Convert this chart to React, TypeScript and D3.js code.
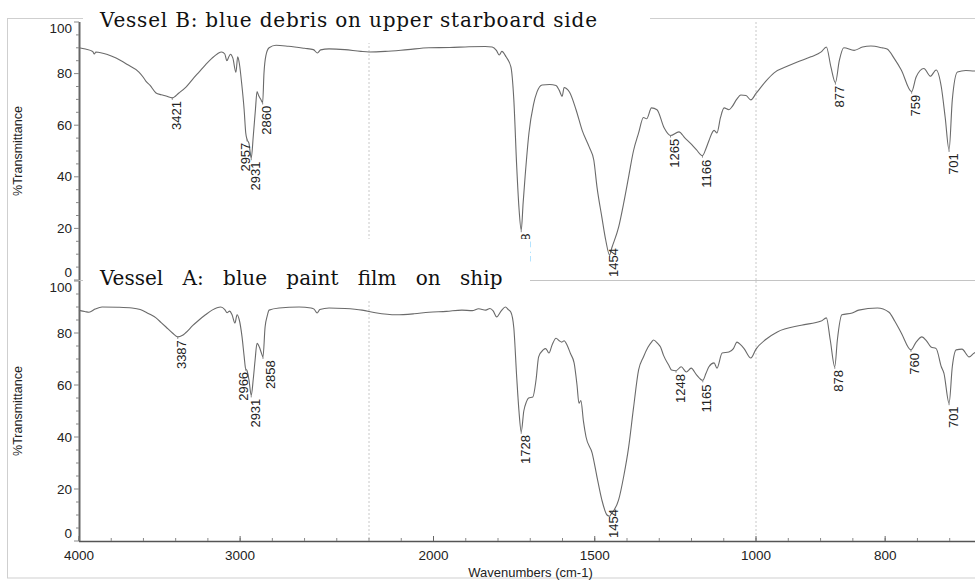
import * as d3 from 'd3';

// FTIR spectra: [wavenumber cm-1, %T]
const vesselB: [number, number][] = [
	[4000, 90.0], [3960, 89.5], [3915, 88.6], [3905, 87.6], [3895, 88.4], [3820, 87.3],
	[3770, 86.0], [3700, 83.5], [3628, 80.6], [3600, 78.5], [3584, 77.0], [3560, 75.5],
	[3522, 72.5], [3490, 71.8], [3460, 71.3], [3421, 70.6], [3380, 72.5], [3336, 74.8],
	[3295, 77.8], [3255, 80.6], [3215, 83.4], [3174, 86.0], [3140, 87.7], [3115, 88.4],
	[3095, 87.6], [3082, 85.0], [3070, 86.5], [3060, 87.5], [3045, 86.0], [3026, 80.5],
	[3015, 86.5], [3005, 84.0], [2990, 76.0], [2975, 66.0], [2965, 57.0], [2957, 54.5],
	[2945, 53.0], [2931, 47.2], [2918, 56.0], [2905, 66.0], [2895, 73.0], [2885, 71.5],
	[2870, 69.8], [2860, 68.8], [2852, 80.0], [2840, 87.0], [2820, 90.0], [2777, 91.0],
	[2700, 90.6], [2600, 89.8], [2545, 89.3], [2520, 88.0], [2500, 89.2], [2448, 89.6],
	[2350, 89.3], [2250, 88.6], [2200, 88.4], [2150, 88.6], [2080, 89.3], [2014, 90.0],
	[1950, 90.1], [1890, 90.4], [1840, 90.5], [1818, 90.3], [1805, 89.0], [1796, 87.2],
	[1788, 88.6], [1775, 86.5], [1760, 82.6], [1751, 70.0], [1742, 44.0], [1735, 28.0],
	[1728, 19.3], [1722, 30.0], [1716, 40.0], [1704, 57.0], [1690, 68.0], [1679, 72.9],
	[1663, 75.6], [1640, 75.8], [1620, 75.4], [1610, 73.5], [1601, 71.2], [1595, 74.6],
	[1588, 74.2], [1578, 72.8], [1558, 66.0], [1539, 58.0], [1517, 51.5], [1503, 46.5],
	[1493, 36.0], [1478, 24.4], [1466, 15.5], [1454, 9.7], [1447, 12.5], [1426, 20.5],
	[1410, 30.0], [1395, 40.0], [1380, 50.0], [1364, 57.0], [1349, 63.0], [1339, 62.5],
	[1324, 66.7], [1307, 66.0], [1285, 59.0], [1265, 56.0], [1239, 57.4], [1220, 55.0],
	[1203, 53.0], [1185, 50.5], [1166, 48.2], [1155, 51.0], [1146, 54.0], [1130, 58.0],
	[1121, 57.0], [1110, 63.0], [1099, 66.7], [1084, 66.0], [1074, 67.2], [1060, 70.0],
	[1047, 71.7], [1031, 71.5], [1016, 69.8], [1000, 72.3], [985, 77.0], [972, 80.3],
	[950, 83.0], [936, 84.5], [915, 86.5], [899, 88.4], [891, 90.3], [884, 82.6],
	[877, 76.5], [871, 85.0], [864, 90.0], [848, 89.0], [835, 90.3], [822, 90.7],
	[805, 90.0], [797, 89.5], [785, 85.5], [775, 81.4], [759, 73.0], [752, 78.7],
	[740, 82.0], [730, 79.0], [721, 81.4], [713, 74.8], [707, 63.0], [701, 50.4],
	[696, 69.8], [688, 80.6], [675, 81.2], [662, 81.0], [650, 81.0],
];

const vesselA: [number, number][] = [
	[4000, 88.8], [3985, 88.5], [3960, 88.2], [3938, 88.0], [3900, 89.2], [3857, 90.0],
	[3760, 89.9], [3671, 89.6], [3620, 89.0], [3584, 88.0], [3560, 87.2], [3522, 85.8],
	[3490, 84.0], [3460, 82.3], [3420, 80.0], [3387, 78.5], [3360, 79.0], [3336, 80.2],
	[3295, 82.8], [3255, 85.0], [3215, 87.0], [3174, 88.8], [3120, 90.0], [3095, 89.0],
	[3081, 87.8], [3065, 88.4], [3050, 87.0], [3032, 83.8], [3019, 87.0], [3005, 85.0],
	[2988, 78.5], [2975, 71.0], [2966, 66.3], [2957, 65.5], [2945, 62.0], [2931, 56.0],
	[2918, 62.5], [2907, 69.6], [2895, 76.0], [2880, 74.5], [2870, 72.7], [2858, 70.8],
	[2845, 82.3], [2832, 86.5], [2820, 88.8], [2758, 89.6], [2634, 90.0], [2560, 89.6],
	[2541, 89.2], [2522, 87.7], [2505, 89.0], [2448, 89.6], [2350, 89.4], [2243, 88.8],
	[2180, 87.8], [2116, 87.0], [2060, 87.4], [2014, 88.0], [1960, 88.3], [1912, 88.8],
	[1880, 88.6], [1860, 89.3], [1838, 88.8], [1825, 89.4], [1815, 88.5], [1804, 86.2],
	[1790, 88.5], [1777, 90.0], [1768, 89.0], [1760, 88.0], [1751, 82.0], [1742, 63.0],
	[1735, 50.0], [1728, 42.0], [1720, 50.0], [1712, 53.5], [1705, 55.0], [1692, 55.4],
	[1682, 62.0], [1674, 70.8], [1660, 73.5], [1652, 74.0], [1642, 72.3], [1632, 75.5],
	[1620, 78.0], [1610, 77.0], [1602, 76.5], [1595, 77.0], [1586, 75.4], [1575, 72.0],
	[1564, 68.5], [1555, 60.0], [1549, 53.0], [1543, 54.0], [1535, 46.0], [1527, 40.0],
	[1508, 33.8], [1493, 24.6], [1478, 15.8], [1462, 10.0], [1454, 9.5], [1450, 10.2],
	[1426, 15.8], [1410, 25.0], [1395, 36.0], [1380, 51.0], [1364, 65.8], [1349, 70.8],
	[1335, 74.5], [1324, 76.5], [1318, 77.3], [1305, 76.0], [1296, 74.6], [1287, 71.5],
	[1270, 67.5], [1262, 65.8], [1248, 65.5], [1232, 67.0], [1216, 65.0], [1201, 66.5],
	[1185, 64.0], [1165, 61.8], [1155, 64.5], [1146, 67.0], [1130, 68.5], [1121, 66.5],
	[1105, 72.3], [1084, 72.7], [1070, 74.0], [1059, 76.5], [1048, 75.5], [1037, 74.0],
	[1016, 70.4], [1000, 73.8], [985, 77.5], [967, 80.4], [930, 83.0], [899, 84.6],
	[891, 85.8], [885, 77.3], [878, 67.0], [874, 77.3], [867, 87.0], [851, 87.7],
	[841, 88.8], [812, 89.6], [794, 88.0], [785, 84.5], [775, 80.0], [760, 73.5],
	[752, 76.5], [743, 78.5], [736, 77.0], [729, 74.6], [721, 74.0], [713, 67.0],
	[709, 64.6], [701, 53.0], [696, 67.0], [690, 73.5], [681, 73.8], [670, 70.8],
	[662, 72.3], [650, 73.0],
];

const peaksB = [3421, 2957, 2931, 2860, 1728, 1454, 1265, 1166, 877, 759, 701];
const peaksA = [3387, 2966, 2931, 2858, 1728, 1454, 1248, 1165, 878, 760, 701];

const xTickLabels = [4000, 3000, 2000, 1500, 1000, 800];
const yTickLabels = [0, 20, 40, 60, 80, 100];
const gridWavenumbers = [2200, 1000];

const titleB = 'Vessel B: blue debris on upper starboard side';
const titleA = 'Vessel A: blue paint film on ship';

// small sideways nudges so crowded labels do not collide
const labelShift: Record<number, number> = { 2957: -6, 2966: -6, 2858: 4 };

const W = 975;
const H = 581;
const sans = "'Liberation Sans', Arial, sans-serif";
const serif = "'DejaVu Serif', serif";

// split abscissa: 4000-2200 compressed, 2200-1000 x2, below 1000 x4
const x = d3.scaleLinear().domain([4000, 2200, 1000, 650]).range([79, 369, 756, 982]);
const yB = d3.scaleLinear().domain([0, 100]).range([280, 22]);
const yA = d3.scaleLinear().domain([0, 100]).range([541, 281]);

const minorTicks = [
	...d3.range(4000, 2200, -200),
	...d3.range(2200, 1000, -100),
	...d3.range(1000, 640, -50),
];

function valueAt(data: [number, number][], wn: number) {
	const p = data.find((d) => d[0] === wn);
	if (p) return p[1];
	const i = data.findIndex((d) => d[0] < wn);
	const a = data[i - 1];
	const b = data[i];
	return a[1] + ((wn - a[0]) / (b[0] - a[0])) * (b[1] - a[1]);
}

function Panel({ data, peaks, y, showXAxis }: { data: [number, number][]; peaks: number[]; y: d3.ScaleLinear<number, number>; showXAxis: boolean }) {
	const [bottom, top] = y.range();
	const line = d3
		.line<[number, number]>()
		.x((d) => x(d[0]))
		.y((d) => y(d[1]))
		.curve(d3.curveMonotoneX);
	const midY = (top + bottom) / 2;
	return (
		<g>
			{gridWavenumbers.map((g) => (
				<line key={g} x1={x(g)} x2={x(g)} y1={top} y2={bottom} stroke="#c8c8c8" strokeDasharray="2,2" />
			))}
			{/* y axis */}
			<line x1={79.5} x2={79.5} y1={top} y2={bottom} stroke="#666" strokeWidth={2} />
			{d3.range(0, 101, 5).map((t) => (
				<line key={t} x1={79} x2={t % 20 === 0 ? 74 : 76} y1={y(t)} y2={y(t)} stroke="#888" />
			))}
			{yTickLabels.map((t) => {
				const shift = t === 100 ? 6 : t === 0 ? -8 : 0;
				return (
					<text key={t} x={72} y={y(t) + shift} textAnchor="end" dominantBaseline="central" fontFamily={sans} fontSize={13.5} fill="#222">
						{t}
					</text>
				);
			})}
			<text transform={`translate(18,${midY}) rotate(-90)`} textAnchor="middle" dominantBaseline="central" fontFamily={sans} fontSize={12.5} fill="#222">
				%Transmittance
			</text>
			{showXAxis ? (
				<g>
					<line x1={79} x2={W} y1={bottom + 0.5} y2={bottom + 0.5} stroke="#555" strokeWidth={1.5} />
					{minorTicks.map((t) => (
						<line key={t} x1={x(t)} x2={x(t)} y1={bottom} y2={bottom - 3} stroke="#888" />
					))}
					{xTickLabels.map((t) => (
						<g key={t}>
							<line x1={x(t)} x2={x(t)} y1={bottom} y2={bottom - 5} stroke="#666" />
							<text x={x(t)} y={bottom + 14} textAnchor="middle" dominantBaseline="central" fontFamily={sans} fontSize={13.5} fill="#222">
								{t}
							</text>
						</g>
					))}
				</g>
			) : (
				<line x1={79} x2={W} y1={bottom + 0.5} y2={bottom + 0.5} stroke="#c4c4c4" />
			)}
			<path d={line(data) ?? ''} fill="none" stroke="#6a6a6a" strokeWidth={1.1} />
			{peaks.map((wn) => {
				const px = x(wn) + 4 + (labelShift[wn] ?? 0);
				const py = y(valueAt(data, wn));
				const len = String(wn).length * 7.3;
				let startY = py + 3 + len;
				if (startY > bottom - 3) startY = bottom - 3;
				return (
					<g key={wn}>
						<line x1={x(wn)} x2={x(wn)} y1={py} y2={py + 2} stroke="#888" />
						<text transform={`translate(${px},${startY}) rotate(-90)`} textAnchor="start" dominantBaseline="central" fontFamily={sans} fontSize={13} fill="#222">
							{wn}
						</text>
					</g>
				);
			})}
		</g>
	);
}

export default function App() {
	return (
		<svg width={W} height={H} style={{ position: 'absolute', left: 0, top: 0, background: '#fff' }}>
			<rect x={0} y={0} width={W} height={H} fill="#fff" />
			{/* outer frame */}
			<rect x={7.5} y={18.5} width={1000} height={559.5} fill="none" stroke="#cfcfcf" />
			<Panel data={vesselB} peaks={peaksB} y={yB} showXAxis={false} />
			<Panel data={vesselA} peaks={peaksA} y={yA} showXAxis={true} />
			<text x={(79 + 982) / 2} y={572} textAnchor="middle" dominantBaseline="central" fontFamily={sans} fontSize={13} fill="#222">
				Wavenumbers (cm-1)
			</text>
			{/* title boxes sit on top of the frame */}
			<rect x={83} y={0} width={567} height={43} fill="#fff" />
			<text x={100} y={27} fontFamily={serif} fontSize={20} fill="#111" textLength={497} lengthAdjust="spacing">
				{titleB}
			</text>
			<rect x={83} y={239} width={447} height={62} fill="#fff" />
			<text x={100} y={285} fontFamily={serif} fontSize={20} fill="#111" style={{ wordSpacing: '13px' }}>
				{titleA}
			</text>
		</svg>
	);
}
